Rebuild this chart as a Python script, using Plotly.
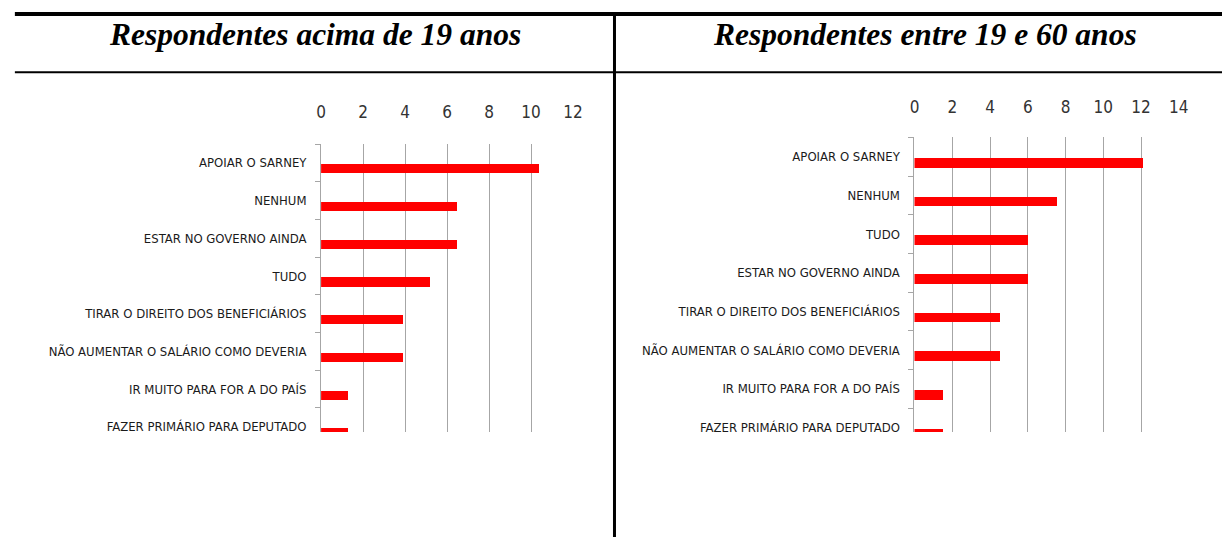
import plotly.graph_objects as go

W, H = 1232, 537

titles = ["Respondentes acima de 19 anos", "Respondentes entre 19 e 60 anos"]

cat_left = ["APOIAR O SARNEY", "NENHUM", "ESTAR NO GOVERNO AINDA", "TUDO",
            "TIRAR O DIREITO DOS BENEFICIÁRIOS", "NÃO AUMENTAR O SALÁRIO COMO DEVERIA",
            "IR MUITO PARA FOR A DO PAÍS", "FAZER PRIMÁRIO PARA DEPUTADO"]
val_left = [10.39, 6.49, 6.49, 5.19, 3.90, 3.90, 1.30, 1.30]

cat_right = ["APOIAR O SARNEY", "NENHUM", "TUDO", "ESTAR NO GOVERNO AINDA",
             "TIRAR O DIREITO DOS BENEFICIÁRIOS", "NÃO AUMENTAR O SALÁRIO COMO DEVERIA",
             "IR MUITO PARA FOR A DO PAÍS", "FAZER PRIMÁRIO PARA DEPUTADO"]
val_right = [12.12, 7.58, 6.06, 6.06, 4.55, 4.55, 1.52, 1.52]


def px(x):
    return x / W


def py(y):
    return 1 - y / H


LABEL_FONT = dict(family="DejaVu Sans Condensed, sans-serif", size=13, color="#1a1a1a")
TICK_FONT = dict(family="DejaVu Sans Condensed, sans-serif", size=17, color="#333333")
GRID = "#a6a6a6"

fig = go.Figure()

fig.add_trace(go.Bar(x=val_left, y=cat_left, orientation="h",
                     marker=dict(color="#ff0000", line=dict(width=0)),
                     offset=0.04, width=0.24, xaxis="x", yaxis="y",
                     showlegend=False, hoverinfo="skip"))
fig.add_trace(go.Bar(x=val_right, y=cat_right, orientation="h",
                     marker=dict(color="#ff0000", line=dict(width=0)),
                     offset=0.04, width=0.25, xaxis="x2", yaxis="y2",
                     showlegend=False, hoverinfo="skip"))


def xaxis_cfg(dom, rng, standoff):
    return dict(domain=dom, range=rng, dtick=2, side="top", showgrid=True,
                gridcolor=GRID, gridwidth=1, zeroline=False, showline=False,
                ticks="", tickfont=TICK_FONT, ticklabelstandoff=standoff,
                fixedrange=True)


def yaxis_cfg(dom, anchor):
    return dict(domain=dom, type="category", range=[7.5, -0.5], anchor=anchor,
                showline=True, linecolor=GRID, linewidth=1, showgrid=False,
                ticks="outside", tickson="boundaries", ticklen=5,
                tickcolor=GRID, tickfont=LABEL_FONT, ticklabelstandoff=11,
                fixedrange=True)


fig.update_layout(
    autosize=True,
    margin=dict(l=0, r=0, t=0, b=0),
    paper_bgcolor="white", plot_bgcolor="white",
    bargap=0,
    xaxis=dict(xaxis_cfg([px(320), px(575)], [0, 12], 22), anchor="y"),
    yaxis=yaxis_cfg([py(445.6), py(144)], "x"),
    xaxis2=dict(xaxis_cfg([px(920.7), px(1188.3)], [0, 14], 20), anchor="y2"),
    yaxis2=yaxis_cfg([py(447), py(137.3)], "x2"),
)

shapes = [
    # white mask: the charts are cut off at the bottom
    dict(type="rect", xref="paper", yref="paper", x0=0, x1=1, y0=0, y1=py(432),
         fillcolor="white", line=dict(width=0), layer="above"),
    # table lines
    dict(type="line", xref="paper", yref="paper", x0=px(10), x1=1,
         y0=py(14), y1=py(14), line=dict(color="black", width=4), layer="above"),
    dict(type="line", xref="paper", yref="paper", x0=px(10), x1=1,
         y0=py(72.3), y1=py(72.3), line=dict(color="black", width=2), layer="above"),
    dict(type="line", xref="paper", yref="paper", x0=px(617), x1=px(617),
         y0=py(14), y1=0, line=dict(color="black", width=3), layer="above"),
]
fig.update_layout(shapes=shapes)

for t, xc in zip(titles, [314, 931]):
    fig.add_annotation(text=t, xref="paper", yref="paper", x=px(xc), y=py(35),
                       xanchor="center", yanchor="middle", showarrow=False,
                       font=dict(family="Liberation Serif, Times New Roman, serif",
                                 size=31.5, color="black", weight="bold",
                                 style="italic"))

page_fix = (
    "document.documentElement.style.cssText='margin:0;padding:0;overflow:hidden;';"
    "document.body.style.cssText='margin:0;padding:0;overflow:hidden;';"
    "var gd=document.getElementById('{plot_id}');"
    "gd.style.position='fixed';gd.style.left='0';gd.style.top='0';"
    "gd.style.width='100vw';gd.style.height='100vh';"
    "Plotly.Plots.resize(gd);"
)
fig.write_html("out.html", config={"displayModeBar": False, "responsive": True},
               default_width="100vw", default_height="100vh",
               post_script=page_fix)
